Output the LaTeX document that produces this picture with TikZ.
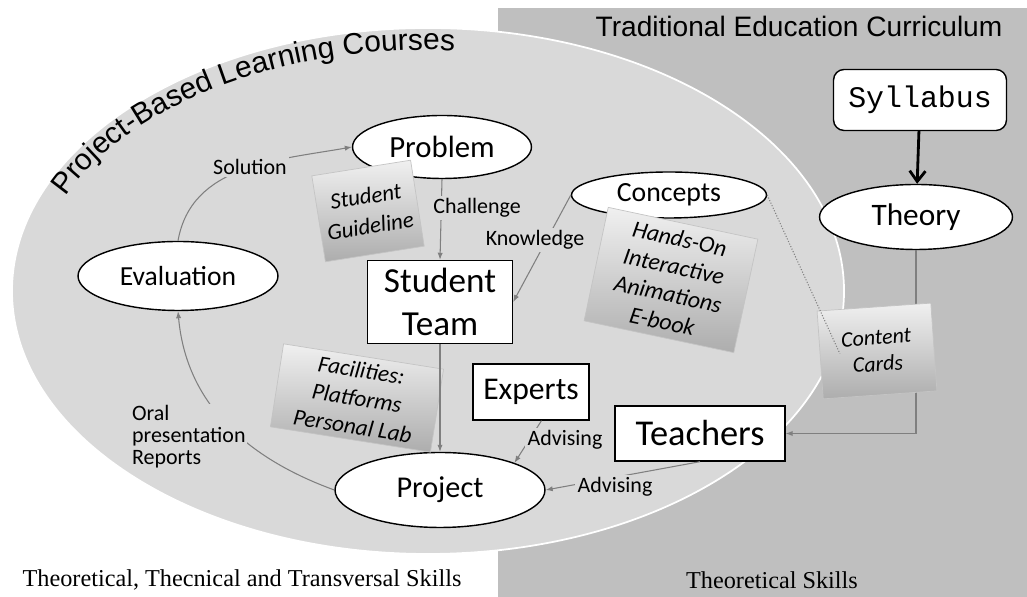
\documentclass[tikz,border=0pt]{standalone}
\usepackage{fontspec}
\setmainfont{Carlito}
\newfontfamily\arialfont{Liberation Sans}
\newfontfamily\courierfont{Liberation Mono}
\newfontfamily\timesfont{Liberation Serif}
\usepackage{tikz}
\usetikzlibrary{arrows.meta,positioning,calc,shapes.geometric,decorations.text}
\tikzset{every node/.append style={align=center}}
\definecolor{pblgray}{HTML}{D9D9D9}
\definecolor{tecgray}{HTML}{BFBFBF}
\definecolor{linegray}{HTML}{7F7F7F}
\definecolor{cardtop}{HTML}{F0F0F0}
\definecolor{cardbot}{HTML}{ADADAD}
\definecolor{cardedge}{HTML}{C4C4C4}

\begin{document}
\begin{tikzpicture}[x=0.02cm, y=0.02cm, >=Latex,
  oval/.style={ellipse, draw, fill=white, line width=0.8pt, inner sep=0pt},
  tbox/.style={rectangle, draw, fill=white, line width=0.8pt, inner sep=0pt},
  card/.style={rectangle, draw=cardedge, top color=cardtop, bottom color=cardbot, inner sep=0pt},
  lbl/.style={fill=pblgray, inner sep=1.5pt, font=\fontsize{12.5}{15}\selectfont},
  link/.style={draw=linegray, line width=0.6pt, -{Latex[length=4pt,width=3pt]}}]
  \useasboundingbox (0,0) rectangle (1027,597);
  \fill[tecgray] (498,0) rectangle (1027,589);
  \draw[white, fill=pblgray, line width=1pt] (428,306) ellipse [x radius=416, y radius=263];
  \path[decorate, decoration={text along path, text={|\arialfont\fontsize{17}{20}\selectfont|Project-Based Learning Courses}}]
    (428,306) ++(157:394 and 241) arc[start angle=157, end angle=75, x radius=394, y radius=241];
  \node[font=\arialfont\fontsize{16}{19}\selectfont, anchor=base] (ttrad) at (799,560) {Traditional Education Curriculum};

  \node[oval, minimum width=3.58cm, minimum height=1.26cm, font=\fontsize{17.5}{21}\selectfont] (prob) at (442,450) {Problem};
  \node[tbox, minimum width=2.9cm, minimum height=1.66cm, font=\fontsize{20}{24}\selectfont] (team) at (440,295) {Student\\Team};
  \node[oval, minimum width=3.9cm, minimum height=0.92cm, font=\fontsize{15.8}{19}\selectfont] (conc) at (669,402) {Concepts};
  \node[oval, minimum width=3.86cm, minimum height=1.3cm, font=\fontsize{17.8}{21}\selectfont] (theo) at (916,380) {Theory};
  \node[tbox, rounded corners=6pt, minimum width=3.46cm, minimum height=1.22cm, font=\courierfont\fontsize{17}{20}\selectfont] (syll) at (920,497) {Syllabus};
  \node[oval, minimum width=4cm, minimum height=1.38cm, font=\fontsize{15.7}{19}\selectfont] (eval) at (178,321) {Evaluation};
  \node[oval, minimum width=4.2cm, minimum height=1.5cm, font=\fontsize{17.2}{21}\selectfont] (proj) at (440,107) {Project};
  \node[tbox, minimum width=2.32cm, minimum height=1.12cm, font=\fontsize{18}{22}\selectfont] (expe) at (531,205) {Experts};
  \node[tbox, minimum width=3.4cm, minimum height=1.1cm, font=\fontsize{20.7}{25}\selectfont] (teach) at (700,163.5) {Teachers};

  \draw[link] (theo.south) |- (teach.east);

  \node[card, rotate=9, minimum width=2cm, minimum height=1.74cm, font=\itshape\fontsize{13}{17}\selectfont] (guide) at (368,386) {Student\\Guideline};
  \node[card, rotate=-12, minimum width=3.06cm, minimum height=2.32cm, font=\itshape\fontsize{13.5}{16}\selectfont] (media) at (671,317) {Hands-On\\Interactive\\Animations\\E-book};
  \node[card, rotate=4, minimum width=2.28cm, minimum height=1.76cm, font=\itshape\fontsize{12.5}{15}\selectfont] (cards) at (877,246) {Content\\Cards};
  \node[card, rotate=-9, minimum width=3.24cm, minimum height=1.68cm, font=\itshape\fontsize{13.2}{16}\selectfont] (facil) at (357,199) {Facilities:\\Platforms\\Personal Lab};

  \draw[link] (prob.south) -- (team.north);
  \draw[link] (conc.west) -- (team.east);
  \draw[link] (team.south) -- (proj.north);
  \draw[link] (expe.-70) -- (proj.20);
  \draw[link] (teach.south) -- (proj.east);
  \draw[link] (eval.north) to[out=80, in=190] (prob.west);
  \draw[link] (proj.west) to[out=160, in=275] (eval.south);
  \draw[linegray, densely dotted, line width=0.6pt] (conc.east) -- ($(cards.west)!0.35!(cards.center)$);
  \draw[-{Straight Barb[length=6pt,width=9pt]}, line width=1.6pt] (syll) -- (theo);

  \node[lbl] (lsol) at (250,430) {Solution};
  \node[lbl] (lcha) at (477,389) {Challenge};
  \node[lbl] (lkno) at (535,357) {Knowledge};
  \node[lbl] (ladv1) at (565,157) {Advising};
  \node[lbl] (ladv2) at (615,110) {Advising};
  \node[lbl, anchor=west, align=left, inner sep=1pt, font=\fontsize{12.5}{12.5}\selectfont] (loral) at (130,160) {Oral\\presentation\\Reports};

  \node[font=\timesfont\fontsize{13.8}{17}\selectfont] (skl1) at (242,17) {Theoretical, Thecnical and Transversal Skills};
  \node[font=\timesfont\fontsize{13.8}{17}\selectfont] (skl2) at (772,17) {Theoretical Skills};
\end{tikzpicture}
\end{document}
